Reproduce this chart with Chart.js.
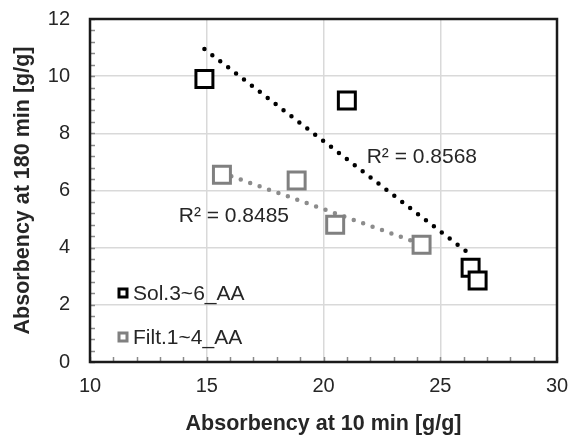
<!DOCTYPE html>
<html>
<head>
<meta charset="utf-8">
<script src="https://cdn.jsdelivr.net/npm/chart.js@4.4.1/dist/chart.umd.min.js"></script>
<style>
  html, body { margin: 0; padding: 0; background: #fff; }
  #wrap { width: 572px; height: 437px; }
</style>
</head>
<body>
<div id="wrap"><canvas id="chart"></canvas></div>
<script>
// values
const solX = [14.9, 21.0, 26.3, 26.6];
const solY = [9.9, 9.15, 3.3, 2.85];
const filtX = [15.65, 18.85, 20.5, 24.2];
const filtY = [6.55, 6.35, 4.8, 4.1];

// trendline ends as drawn
const solTrendX = [14.9, 26.35];
const solTrendY = [10.95, 3.72];
const filtTrendX = [15.65, 24.2];
const filtTrendY = [6.62, 4.12];

const seriesNames = ['Sol.3~6_AA', 'Filt.1~4_AA'];
const r2Labels = ['R² = 0.8568', 'R² = 0.8485'];
const r2PosX = [21.85, 13.8];
const r2PosY = [7.15, 5.1];

const xTicks = [10, 15, 20, 25, 30];
const yTicks = [0, 2, 4, 6, 8, 10, 12];

const toPoints = (xs, ys) => xs.map((x, i) => ({ x, y: ys[i] }));

const TEXT = '#262626';
const FONT = "'Liberation Sans', Arial, sans-serif";

const plotExtras = {
  id: 'plotExtras',
  afterDatasetsDraw(chart) {
    const { ctx, chartArea: a, scales: { x, y } } = chart;
    ctx.save();

    // minor ticks, inward
    ctx.strokeStyle = '#8a8a8a';
    ctx.lineWidth = 1.5;
    for (let v = 0; v <= 12.001; v += 0.4) {
      const py = Math.round(y.getPixelForValue(v)) + 0.5;
      ctx.beginPath();
      ctx.moveTo(a.left, py);
      ctx.lineTo(a.left + 5, py);
      ctx.stroke();
    }
    for (let v = 10; v <= 30; v += 1) {
      const px = Math.round(x.getPixelForValue(v)) + 0.5;
      ctx.beginPath();
      ctx.moveTo(px, a.bottom);
      ctx.lineTo(px, a.bottom - 5);
      ctx.stroke();
    }

    // frame
    ctx.strokeStyle = '#1a1a1a';
    ctx.lineWidth = 2.5;
    ctx.strokeRect(a.left, a.top, a.right - a.left, a.bottom - a.top);

    // R² labels
    ctx.fillStyle = TEXT;
    ctx.font = `21px ${FONT}`;
    ctx.textBaseline = 'middle';
    ctx.textAlign = 'left';
    r2Labels.forEach((t, i) => {
      ctx.fillText(t, x.getPixelForValue(r2PosX[i]), y.getPixelForValue(r2PosY[i]));
    });

    // legend inside plot
    const items = chart.data.datasets.filter(d => d.inLegend);
    items.forEach((d, i) => {
      const cy = a.bottom - 69 + i * 44;
      const cx = a.left + 33;
      ctx.strokeStyle = d.borderColor;
      ctx.lineWidth = 3;
      ctx.fillStyle = '#fff';
      ctx.fillRect(cx - 4, cy - 4, 8, 8);
      ctx.strokeRect(cx - 4, cy - 4, 8, 8);
      ctx.fillStyle = TEXT;
      ctx.fillText(d.label, cx + 10, cy + 1);
    });
    ctx.restore();
  }
};

const markerStyle = (color) => ({
  borderColor: color,
  backgroundColor: '#fff',
  pointStyle: 'rect',
  pointRadius: 12,
  pointBorderWidth: 3,
  pointBackgroundColor: '#fff',
  pointBorderColor: color,
  showLine: false,
  order: 0,
  inLegend: true,
});

const trendStyle = (color) => ({
  borderColor: color,
  borderWidth: 4.5,
  borderDash: [0, 10],
  borderCapStyle: 'round',
  pointRadius: 0,
  showLine: true,
  order: 1,
});

new Chart(document.getElementById('chart'), {
  type: 'scatter',
  data: {
    datasets: [
      { label: 'trend1', data: toPoints(solTrendX, solTrendY), ...trendStyle('#000') },
      { label: 'trend2', data: toPoints(filtTrendX, filtTrendY), ...trendStyle('#8c8c8c') },
      { label: seriesNames[0], data: toPoints(solX, solY), ...markerStyle('#000') },
      { label: seriesNames[1], data: toPoints(filtX, filtY), ...markerStyle('#808080') },
    ],
  },
  options: {
    responsive: true,
    maintainAspectRatio: false,
    animation: false,
    layout: { padding: { top: 19, right: 14, left: 0, bottom: 0 } },
    plugins: {
      legend: { display: false },
      tooltip: { enabled: false },
    },
    scales: {
      x: {
        type: 'linear',
        min: 10,
        max: 30,
        afterBuildTicks: (s) => { s.ticks = xTicks.map(v => ({ value: v })); },
        afterFit: (s) => { s.height = 75; s.paddingLeft = 0; s.paddingRight = 0; },
        grid: { color: '#d9d9d9', lineWidth: 1.5, drawTicks: false },
        border: { display: false },
        ticks: { color: TEXT, font: { family: FONT, size: 20 }, padding: 12 },
        title: {
          display: true,
          text: 'Absorbency at 10 min [g/g]',
          color: TEXT,
          font: { family: FONT, size: 21.5, weight: 'bold' },
          padding: { top: 0, bottom: 0 },
        },
      },
      y: {
        type: 'linear',
        min: 0,
        max: 12,
        afterBuildTicks: (s) => { s.ticks = yTicks.map(v => ({ value: v })); },
        afterFit: (s) => { s.width = 90; s.paddingTop = 0; s.paddingBottom = 0; },
        grid: { color: '#d9d9d9', lineWidth: 1.5, drawTicks: false },
        border: { display: false },
        ticks: { color: TEXT, font: { family: FONT, size: 20 }, padding: 20 },
        title: {
          display: true,
          text: 'Absorbency at 180 min [g/g]',
          color: TEXT,
          font: { family: FONT, size: 21.5, weight: 'bold' },
          padding: { top: 10, bottom: 0 },
        },
      },
    },
  },
  plugins: [plotExtras],
});
</script>
</body>
</html>
